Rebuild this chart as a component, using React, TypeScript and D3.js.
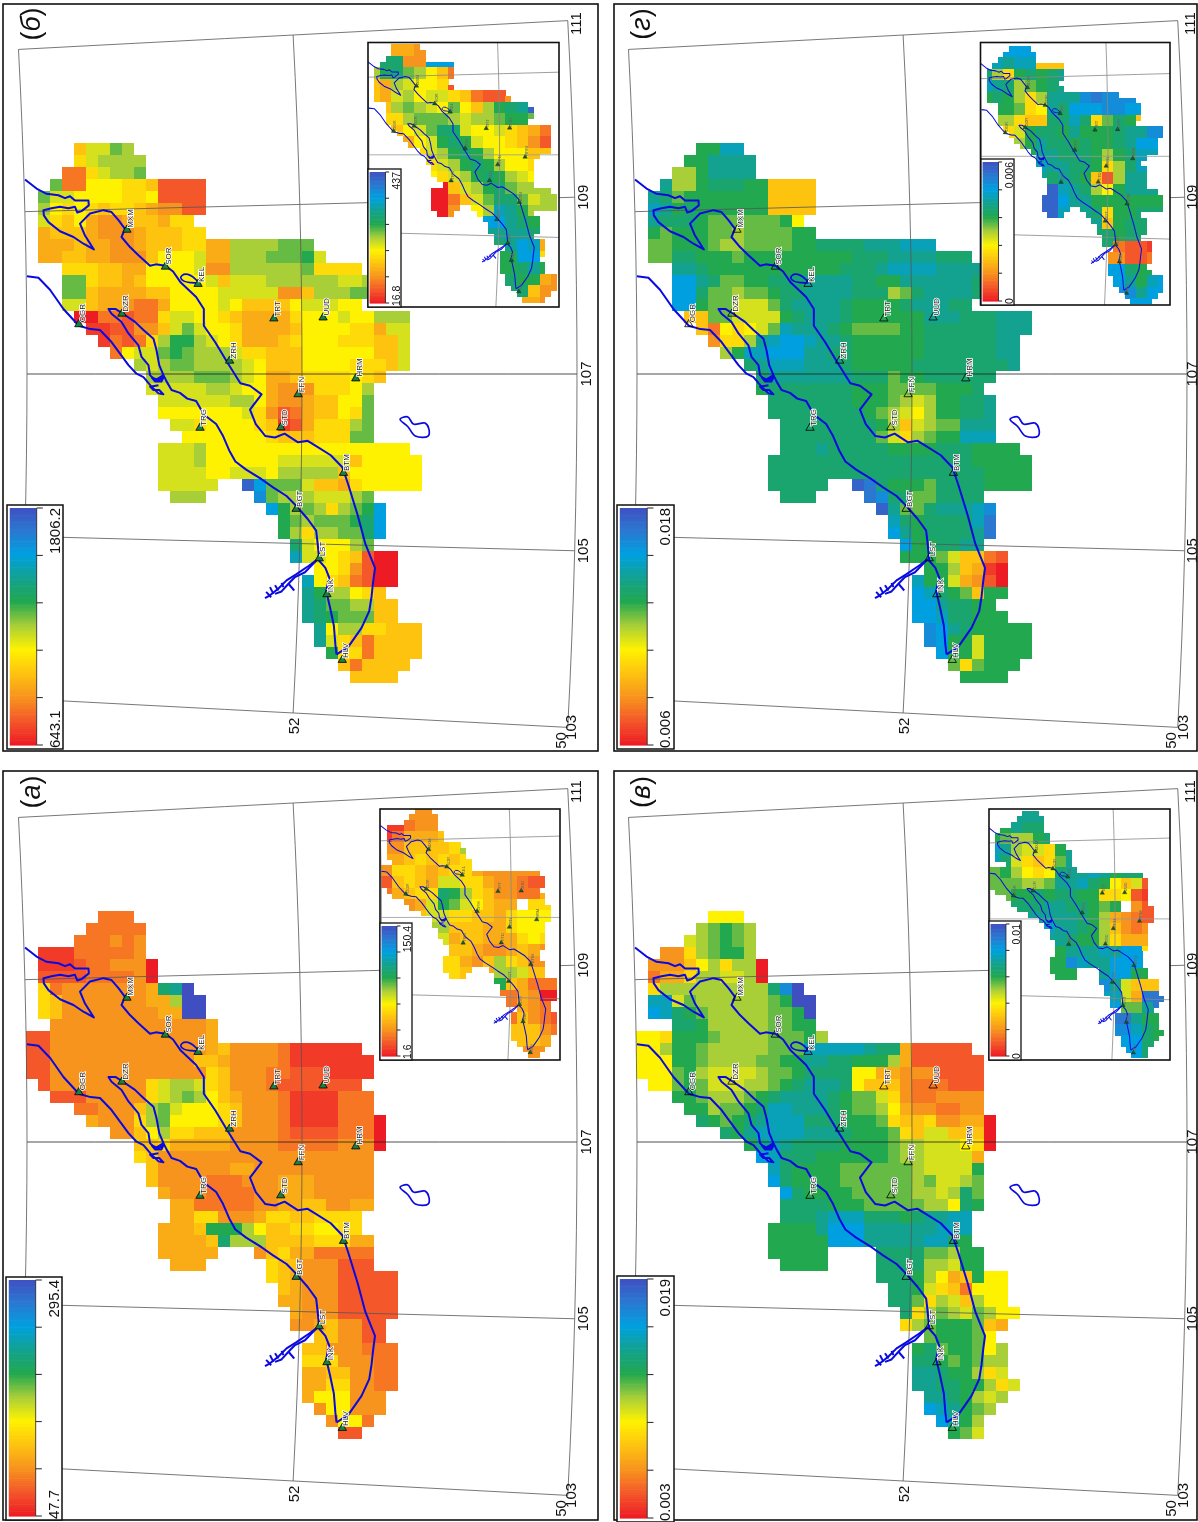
import React from 'react';
import * as d3 from 'd3';

// Level letters: a (scale minimum, t=0) ... u (scale maximum, t=1). Run-length rows: "3f" = three cells, "." = empty.
const rowsA = ["6.3d","5.5d","4.3dede","1.3b5de","1.3bc2d2eea","1.4c4dea",".hd7efnou",".hg7e2fk2u",".hg8e2f2u","2.13ef","2c13ef","2c13efg4ed6b","2c12e2gf4ed7b","2c13ehg3e2d3c4b",".c8ehjkkjhg3ed7c","2.3c5ehjklkigf3ed4b3d","4.2d3egklj3ihg3ed4b3d","5.f3ehkl4ihg3ed4b3da","7.2egik2h3g4ed4c3da","9.2gh5f4e5d3ea","9.hg18e","10.g6e2f10e","10.g4e3d3e3f5e","11.f3e4d2e3f5e","12.2f5d2e2f2g2e2f","12.2f2h3ef2h2g4h","11.3fg3mki2g2h2i2h","11.4fgn3k4g3h2f","11.5f3.egh2f5d","12.3f5.h2g3e3c","20.hgf3e5c","21.gf3e5c","21.2f3e5c","22.f3e5c","22.2efg2e2c","24.2g2e2c","23.2g3e3d","23.3h3e2d","23.2f2g2e2d","23.2f2h2e2d","23.f3i3e","24.e2i3e","25.e2id","26.2c"];
const rowsB = ["4.g2jlk","4.hj4k","3.2dhj2kl","2.l2d3i2hg4c","1.l2j4i2hi4c","1.kihihg2hgf2e2c",".jhgif2ef2gf2h",".f3gf3ef3g2h","1.3fg2f2ef3g2h2f4k3l","1.2f2g2f3eg3ij2f3k3lmj","3.3h2g2f4ij2e6kl4h","3.2lh2gfg5ijg3j6k2jk","3.2lg4f2g4i5j2eg3k2l","3.2jg2fe2df4iji4gi3j2i","4.2a2dc2dh2j2ihg4fh3ij2i3k","5.2b2c2egjlj2ih4fg4i2hf2j","6.bdcdhk2mkjih3fgh3i3h2gj","7.di2jlml3kj2h3g6i2gj","9.kjk2l4kji3g4i3hgj","10.4k3lkji2fg4hihg","10.5j2kj2if3e3hik","11.6j2kif2ef2g2il","11.7ijhecdf2gihl","12.2jh4ihgbcf3hkl","13.7ih3g3h2l","11.3jk17i","11.3jk6i6jg5i","11.4j2i3ji5kg6i","11.5j2.tql2lj2gfh5i","12.3k4.rl3k3jkl","20.qmklkhklmq","21.mlk3lmnq","21.mkh2k2lnq","22.nj3ikl","22.p2jihgc2a","24.2ihec2a","23.pihgdc2a","23.om2kihg","23.on2l2k2g","23.onm3l2g","24.oi2k2h3g","24.ojhgd4g","25.m2hd4g","26.gd4g","27.4g"];
const rowsV = ["6.3i","5.klmlk","4.jklmlk","2.2ehkl2mk","1.3egikh2ka","1.d2fh2k2jka",".h9knru",".2pjl6klm2u",".qpnml5k2lmu","3.2nm5k2l2m","2ih3ml4k3lmk","2ik2ml5k3l5po2nf5c","3i2ml4k2l2m2o2n3mkf6c","3ilmk4jk2lm4n2i2fe2e4c",".2ilml3j2klmn3oni3ge3d3c","3.2ml3klmn4onm2ljhe2d4e","4.2mk2lmn2p3onm2lkif2e2d2e","5.nmlmno3p3n3mlh2gh2e2fa","7.nmo4p3on3mlhg2j3ga","9.mopo4n4ml2k3jiha","10.qp3n6ml2k4jf","11.pn4m6lk4jm","11.qn4m6lkl2jkl","12.qn4m5l2kjknl","12.4n3m5l2kinm","12.3no3p3nmn2o2p","11.4mo3q6o3p","11.5m3q5o2pnm","11.5m4.4n2lk2m","12.4m4.4n2kj2m","20.3nmkifgm2i","21.2nmjhgd3i","21.2nlhkjgk2i","22.nhklkjlk2i","22.hkl3mlgf","24.l3mli","23.mnl2mlik","23.2nmlml2k","23.2on2mkhj","23.2o2n2mkhj","24.2onmkjk","24.qpomlk","25.qomk","26.mlj"];
const rowsG = ["5.2m2p","4.2m4o","3.2km4o","2.o2km3n2m4g","1.onl7m4g","1.pomn6m4g","1.o3nm6lmi","1.ml3m2lkl3l2m","1.2l3ml2kl3l2m4n3o3p","1.2l2n3ml9m3n4o3n","3.2on11m3no4p4o","3.2qon2l2m3n4o2n2m6on","3.2qn2lk2lm2n4o3nkln4on","3.2qm2l3jln4on4mn3o2n","4.2g2l4jmn3on6m3o3n3o","5.gdihijlp3onm4l2m6n3o","6.e2hkop2qp2on6m6n2o","7.km2p3q2o2n6m6n2o","9.no3p3on5m8no","10.n7o3nl2m6n","10.m7n3m4l3mn","11.7n3mlkjk2m2no","11.8nmlkjik2m2no","12.8nmkgjk2l3o","12.8nljhkl2m3p","12.3no5n4m3n4m","11.17n5m","11.18n4m","11.5n2.tsn3ml4n4m","12.3n4.sr2n2l4n","20.to2ln3opr","21.pnm4nps","21.qom4nos","22.q2m2n2o","22.3mljggdc","24.2mkgfba","23.p2mjfeca","23.qpnmlg2m","23.2qo2n2m","23.2qp2n3m","24.rqon5m","24.rq2mj4m","25.q2mj4m","26.lhl3m","27.4m"];

const insetA = ["3.2e","2bd2ea","bd3fgp",".e4ghk",".fghghgh","e2hgfg2hfe","cghgf2j2hf2edc","dfg2hnmkhg2e2df","2.efjmljig2fx2h","3.g2j2h2gfh3i","5.k3g2fh3ij","5.jf2g3fhih","6.2gf2efgfe","6.hfegkhge","6.hg.f2kjg","10.mgfd","11.dfea","11.dfed","11.dgedc","12.2ged","12.2gfd","13.2ed","13.2ed"];
const insetB = ["3.fe","3n2eq","kmnlkigd","gfkj2ihc","gfjki2jhgd2ce","egklkjiligkmnot","2.hk3lkj2klmml","2.gijl2nj2ijhgfd","3.fijmnmj2ihgec","4.hjkmnmk3ig","5.hjkmnmk2ih","5.ihjkmnmkji","5.2agjkmnl3k","5.2adgjl2nljkk","6.aefikpomk","10.qqonm","11.3onh","11.noqpf","12.m2qh","12.mnom","12.n2mfe","13.ng2e","14.fe"];
const insetV = ["3.2o","1.mo2nq","ml2kmno","pok2jhmo","pnjhghlo","lmkihin2opomn","3l2kl2opnmigjc","1.l2mnm2n2m2hicb","2.3n2o2nmlmxec","3.5onmkfedc","4.2p2onmkgede","5.2on2mkh2f","5.2m3opo2qh","5.2mrp2o3qm","6.2m2qo2qm","10.rojg","11.pjfs","11.q2los","12.som2m","12.rpn2m","12.2qnm","13.qnm","14.m"];
const insetG = ["3.2q","2po2pg","nkhmnmno","ponklmno","mnmkhk3orsr","n2mlhion3q2rq","2.kh2g2npnhlnmg","2.hjm2nmo3mn2or","3.kmo2nmn2mnoq","4.m2o3nmkmnp","5.p2o2nmhknp","5.ononmgcko","5.2tponkim2o","5.2tq2o7m","6.tpqonh2mn","10.ogmn","11.nm2n","11.ndccb","12.e2cd","12.qn2m","12.qompq","13.roqq","14.2q"];

const stations: [string, number, number][] = [["OGR",205,672],["DZR",317,650],["MXM",330,475],["SOR",430,552],["KEL",515,588],["TRT",712,660],["UUD",840,658],["ZRH",597,748],["HRM",925,785],["FFN",775,818],["STD",730,887],["TRG",520,888],["BTM",893,982],["BGT",770,1057],["LST",830,1160],["INK",850,1235],["HLV",890,1372]];

const riverWest = [[875,1360],[872,1340],[868,1300],[858,1262],[848,1228],[856,1200],[846,1180],[830,1165],[826,1130],[822,1102],[800,1078],[772,1052],[745,1030],[710,1012],[680,995],[640,975],[612,958],[596,935],[580,905],[562,880],[530,860],[510,832],[487,827],[468,815],[446,809],[433,791],[425,778],[414,757],[407,726],[399,702],[373,684],[351,667],[320,650],[300,640],[282,640],[290,650],[316,667],[334,691],[360,716],[368,740],[386,757],[390,778],[403,789],[425,778]];
const riverEgiin = [[70,572],[100,575],[130,600],[165,640],[205,675],[235,682],[260,684],[290,709],[312,733],[334,757],[355,775],[373,782],[394,802],[412,816],[425,818],[414,809],[399,809],[390,802],[412,799]];
const riverEast = [[875,1360],[905,1345],[940,1305],[960,1270],[966,1240],[970,1210],[975,1180],[950,1130],[930,1070],[905,1005],[890,970],[860,945],[820,925],[800,915],[775,918],[740,900],[715,908],[690,905],[665,880],[650,850],[680,818],[650,800],[625,795],[590,750],[560,710],[530,675],[530,640],[510,615],[470,585],[450,562],[430,550],[405,547],[390,550],[360,528],[338,511],[316,490],[325,473],[308,455],[290,438],[269,434],[234,441],[208,462],[221,487],[244,516],[217,504],[191,490],[156,478],[126,459],[114,445],[113,434],[134,430],[156,427],[178,430],[195,427],[201,439],[212,436],[231,424],[230,414],[195,414],[182,405],[169,409],[152,403],[121,400],[95,389],[65,370]];
const deltaLoop = [[394,782],[412,789],[425,782],[420,791],[403,791],[394,782]];
const treeA = [[828,1161],[802,1176],[771,1193],[745,1206],[724,1223],[702,1237],[689,1243]];
const treeB = [[823,1164],[793,1189],[767,1199],[750,1213],[732,1229],[715,1234]];
const treeC = [[750,1213],[765,1227]];
const treeD = [[715,1216],[724,1227]];
const treeE = [[702,1220],[711,1234]];
const treeF = [[732,1211],[737,1220]];
const treeG = [[692,1230],[705,1241]];
const kelLoop = [[470,575],[478,568],[495,570],[515,585],[495,585],[478,582]];
const southLake = [[1040,870],[1060,865],[1075,880],[1105,878],[1115,890],[1113,905],[1080,905],[1060,885]];
const riverLines = [riverWest, riverEgiin, riverEast, deltaLoop, treeA, treeB, treeC, treeD, treeE, treeF, treeG];

const lons = [103, 105, 107, 109, 111];
const lats = [50, 52, 54];
const barStops = [0, 0.2, 0.4, 0.6, 0.8, 1];
const rampT = [0, .1, .2, .3, .4, .5, .6, .7, .8, .9, 1];
const rampC = ['#ed1c24', '#f4582a', '#f7941d', '#fdc30f', '#fff200', '#a9cf38', '#22a84f', '#12a28f', '#00a0e0', '#2a78d0', '#3f4fc2'];

const color = d3.scaleLinear<string>().domain(rampT).range(rampC);
const traceX = d3.scaleLinear().domain([0, 2600]).range([0, 1000]);
const traceY = d3.scaleLinear().domain([0, 2085]).range([0, 1000]);
const radius = d3.scaleLinear().domain([50, 54]).range([6747, 6197]);
const angle = d3.scaleLinear().domain([107, 111]).range([0, 0.0524]);
const project = (lon: number, lat: number): [number, number] => {
  const r = radius(lat), a = angle(lon);
  return [-6170 + r * Math.cos(a), 372 - r * Math.sin(a)];
};

function parseRow(s: string): string[] {
  const out: string[] = [];
  for (const m of s.matchAll(/(\d*)([a-ux.])/g)) {
    const n = m[1] ? +m[1] : 1;
    for (let i = 0; i < n; i++) out.push(m[2]);
  }
  return out;
}
const CELL = 12, X0 = 26, Y0 = 141;
const lvl = (c: string) => (c.charCodeAt(0) - 97) / 20;

function insetLookup(rows: string[][], c: number, r: number): string | null {
  const row = rows[Math.min(Math.floor(r / 2), rows.length - 1)];
  const k = Math.floor(c / 2);
  let best: string | null = null, bd = 1e9;
  row.forEach((ch, i) => {
    if (ch === '.' || ch === 'x') return;
    const d = Math.abs(i - k);
    if (d < bd) { bd = d; best = ch; }
  });
  if (row[k] === 'x') return null;
  return best;
}

const gratLine = d3.line();
const gratPaths = [
  ...lons.map(lon => gratLine(d3.range(50, 54.01, 0.5).map(la => project(lon, la)))!),
  ...lats.map(la => gratLine(d3.range(103, 111.01, 0.5).map(lo => project(lo, la)))!),
];
const toPx = (p: number[]) => [traceX(p[0]), traceY(p[1])] as [number, number];
const riverPaths = riverLines.map(pts => d3.line()(pts.map(toPx))!);
const closed = d3.line().curve(d3.curveCatmullRomClosed);
const kelPath = closed(kelLoop.map(toPx))!;
const lakePath = closed(southLake.map(toPx))!;

type P = { key: string; letter: string; dx: number; dy: number; frame: number[]; bar: number[]; hi: string; lo: string;
  inset: number[]; ibar: number[]; ihi: string; ilo: string; map: number[]; rows: string[]; irows: string[]; fillTri: string; right: boolean };

const panels: P[] = [
  { key: 'a', letter: 'а', dx: 0, dy: 770, frame: [3, 1, 598, 750], bar: [6, 507, 62, 750], hi: '295.4', lo: '47.7', inset: [380, 39, 560, 290], ibar: [380, 153, 412, 290], ihi: '150.4', ilo: '1.6', map: [381, 38.4, 0.472, 0.472], rows: rowsA, irows: insetA, fillTri: '#1b7f45', right: false },
  { key: 'b', letter: 'б', dx: 0, dy: 2, frame: [3, 2, 598, 749], bar: [7, 503, 63, 747], hi: '1806.2', lo: '643.1', inset: [368, 40.5, 559, 305], ibar: [368, 167, 401, 305], ihi: '437', ilo: '16.8', map: [368.5, 42.4, 0.475, 0.478], rows: rowsB, irows: insetB, fillTri: '#1b7f45', right: false },
  { key: 'v', letter: 'в', dx: 610, dy: 770, frame: [4, 1, 587, 750], bar: [7, 506, 64, 752], hi: '0.019', lo: '0.003', inset: [379, 39, 560, 290], ibar: [379, 151, 411, 290], ihi: '0.01', ilo: '0', map: [379.5, 40.8, 0.455, 0.468], rows: rowsV, irows: insetV, fillTri: 'none', right: true },
  { key: 'g', letter: 'г', dx: 610, dy: 2, frame: [4, 2, 587, 749], bar: [7, 503, 64, 747], hi: '0.018', lo: '0.006', inset: [370.5, 40.5, 560, 303], ibar: [371, 157, 404, 303], ihi: '0.006', ilo: '0', map: [371, 43.9, 0.46, 0.478], rows: rowsG, irows: insetG, fillTri: 'none', right: true },
];

const FONT = '"Liberation Sans", Arial, sans-serif';
const ramp = d3.range(0, 1, 0.01);

function ColorBar({ box, hi, lo, fs, small }: { box: number[]; hi: string; lo: string; fs: number; small?: boolean }) {
  const [l, t, r, b] = box;
  const w = r - l;
  const ix0 = l + w * 0.05, ix1 = l + w * 0.53, tx = l + w * 0.64, lx = l + w * 0.84;
  const y = d3.scaleLinear().domain([0, 1]).range([b - 4, t + 3]);
  return (
    <g>
      <rect x={l} y={t} width={w} height={b - t} fill="#fff" stroke="#111" strokeWidth={small ? 1.3 : 1.5} />
      {ramp.map(v => <rect key={v} x={ix0} y={y(v + 0.01)} width={ix1 - ix0} height={y(v) - y(v + 0.01) + 0.6} fill={color(v)} />)}
      <line x1={ix1} x2={ix1} y1={y(0)} y2={y(1)} stroke="#222" strokeWidth={0.8} />
      {barStops.map(v => <line key={v} x1={ix1} x2={tx} y1={y(v)} y2={y(v)} stroke="#222" strokeWidth={1} />)}
      <text transform={`translate(${lx},${y(1)}) rotate(-90)`} textAnchor="end" dominantBaseline="central" fontSize={fs} fontFamily={FONT} fill="#111">{hi}</text>
      <text transform={`translate(${lx},${y(0) + 3}) rotate(-90)`} textAnchor="start" dominantBaseline="central" fontSize={fs} fontFamily={FONT} fill="#111">{lo}</text>
    </g>
  );
}

function Cells({ rows }: { rows: string[] }) {
  return (
    <g shapeRendering="crispEdges">
      {rows.flatMap((s, r) => parseRow(s).map((ch, c) => ch === '.' ? null :
        <rect key={`${r}-${c}`} x={X0 + c * CELL} y={Y0 + r * CELL} width={CELL + 0.3} height={CELL + 0.3} fill={color(lvl(ch))} />))}
    </g>
  );
}

function InsetCells({ rows, irows }: { rows: string[]; irows: string[] }) {
  const parsed = irows.map(parseRow);
  return (
    <g shapeRendering="crispEdges">
      {rows.flatMap((s, r) => parseRow(s).map((ch, c) => {
        if (ch === '.') return null;
        const v = insetLookup(parsed, c, r);
        if (!v) return null;
        return <rect key={`${r}-${c}`} x={X0 + c * CELL} y={Y0 + r * CELL} width={CELL + 0.5} height={CELL + 0.5} fill={color(lvl(v))} />;
      }))}
    </g>
  );
}

function Stations({ fill, small }: { fill: string; small?: boolean }) {
  const sym = d3.symbol().type(d3.symbolTriangle).size(small ? 40 : 30)();
  return (
    <g>
      {stations.map(([name, a, b]) => {
        const x = traceX(a), y = traceY(b);
        return (
          <g key={name}>
            <path d={sym!} transform={`translate(${x},${y})`} fill={small ? '#145c33' : fill} stroke="#000" strokeWidth={small ? 0.6 : 0.8} />
            <text transform={`translate(${x + 6},${y - 2}) rotate(-90)`} fontSize={small ? 9 : 8} fontFamily={FONT}
              fill={small ? '#666' : '#222'} stroke={small ? 'none' : '#fff'} strokeWidth={small ? 0 : 1.6} paintOrder="stroke">{name}</text>
          </g>
        );
      })}
    </g>
  );
}

function Panel({ p }: { p: P }) {
  const [fl, ft, fr, fb] = p.frame;
  const [il, it, ir, ib] = p.inset;
  const [mx, my, sx, sy] = p.map;
  const clipId = `clip-${p.key}`;
  const mapT = `translate(${mx},${my}) scale(${sx},${sy}) translate(${-X0},${-Y0})`;
  return (
    <g transform={`translate(${p.dx},${p.dy})`}>
      <rect x={fl} y={ft} width={fr - fl} height={fb - ft} fill="#fff" stroke="#111" strokeWidth={1.6} />
      <Cells rows={p.rows} />
      {gratPaths.map((d, i) => <path key={i} d={d} fill="none" stroke={i === 2 ? '#222' : '#555'} strokeWidth={0.8} />)}
      {riverPaths.map((d, i) => <path key={i} d={d} fill="none" stroke="#0a0ae0" strokeWidth={2} strokeLinejoin="round" />)}
      <path d={kelPath} fill="none" stroke="#0a0ae0" strokeWidth={1.7} />
      <path d={lakePath} fill="none" stroke="#0a0ae0" strokeWidth={1.7} />
      <Stations fill={p.fillTri} />
      {lons.map(lon => {
        const [x, y] = project(lon, 50);
        const lx = p.right ? Math.min(x + (lon === 103 ? 5 : 12), 581) : x + (lon === 103 ? 3 : 8);
        const ly = lon === 111 ? y + 3 : y;
        return <text key={lon} transform={`translate(${lx},${ly}) rotate(-90)`} textAnchor="middle" dominantBaseline="central" fontSize={15} fontFamily={FONT} fill="#111">{lon}</text>;
      })}
      <text transform={`translate(${project(103, 52)[0]},${project(103, 52)[1] + 13}) rotate(-90)`} textAnchor="middle" dominantBaseline="central" fontSize={15} fontFamily={FONT} fill="#111">52</text>
      <text transform={`translate(${project(103, 50)[0] - 7},${project(103, 50)[1] + 13}) rotate(-90)`} textAnchor="middle" dominantBaseline="central" fontSize={15} fontFamily={FONT} fill="#111">50</text>
      <text transform={`translate(31,22) rotate(-90)`} textAnchor="middle" dominantBaseline="central" fontSize={27} fontFamily={FONT} fill="#111">(<tspan fontStyle="italic">{p.letter}</tspan>)</text>
      <ColorBar box={p.bar} hi={p.hi} lo={p.lo} fs={15} />

      <clipPath id={clipId}><rect x={il} y={it} width={ir - il} height={ib - it} /></clipPath>
      <rect x={il} y={it} width={ir - il} height={ib - it} fill="#fff" />
      <g clipPath={`url(#${clipId})`}>
        <g transform={mapT}>
          <InsetCells rows={p.rows} irows={p.irows} />
          {gratPaths.map((d, i) => <path key={i} d={d} fill="none" stroke={i === 2 ? '#999' : '#888'} strokeWidth={1.7} />)}
          {riverPaths.map((d, i) => <path key={i} d={d} fill="none" stroke="#0a0ae0" strokeWidth={2.2} strokeLinejoin="round" />)}
          <path d={kelPath} fill="none" stroke="#0a0ae0" strokeWidth={2} />
          <Stations fill={p.fillTri} small />
        </g>
      </g>
      <rect x={il} y={it} width={ir - il} height={ib - it} fill="none" stroke="#111" strokeWidth={1.6} />
      <ColorBar box={p.ibar} hi={p.ihi} lo={p.ilo} fs={10.5} small />
    </g>
  );
}

export default function App() {
  return (
    <svg width={1198} height={1522} style={{ position: 'absolute', left: 0, top: 0, background: '#fff', filter: 'blur(0.45px)' }}>
      {panels.map(p => <Panel key={p.key} p={p} />)}
    </svg>
  );
}
